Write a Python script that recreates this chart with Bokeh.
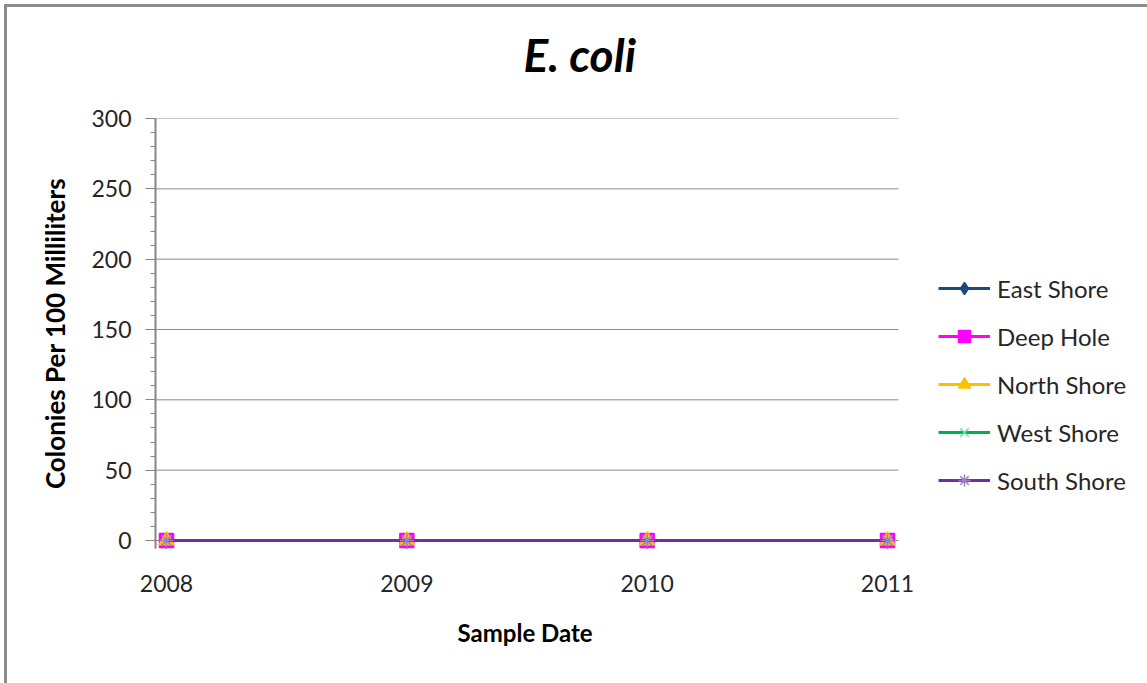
from bokeh.plotting import figure
from bokeh.models import FixedTicker, Legend, LegendItem, Range1d, InlineStyleSheet, Title
from bokeh.embed import file_html
from bokeh.resources import INLINE

# ---- data ----
years = ["2008", "2009", "2010", "2011"]
east_shore = [0, 0, 0, 0]
deep_hole = [0, 0, 0, 0]
north_shore = [0, 0, 0, 0]
west_shore = [0, 0, 0, 0]
south_shore = [0, 0, 0, 0]
series_names = ["East Shore", "Deep Hole", "North Shore", "West Shore", "South Shore"]
y_ticks = [0, 50, 100, 150, 200, 250, 300]
y_minor = list(range(0, 301, 10))

FONT = "Lato"
x = list(range(len(years)))
X0, X1 = -0.0458, 3.0458          # plot-area extent in category units
XR = X0 + 992 / 240.33            # canvas extends past plot area for the legend

p = figure(width=1147, height=683, output_backend="svg", toolbar_location=None,
           x_range=Range1d(X0, XR), y_range=Range1d(-5.7, 300),
           min_border_left=155, min_border_right=0,
           min_border_top=118, min_border_bottom=135)
# chart-area frame line (top and left), painted under a transparent canvas
p.stylesheets = [InlineStyleSheet(css=":host { box-shadow: inset 4px 4px 0 0 #ffffff, "
                                      "inset 7px 7px 0 0 #8c8c8c; }")]
p.outline_line_color = None
p.background_fill_color = None
p.border_fill_color = None
p.title.text = ""

# spacer between chart title and plot area, then the chart title
spacer = Title(text=" ", text_font=FONT, text_font_size="10px", standoff=23)
p.add_layout(spacer, "above")
main_title = Title(text="E. coli", align="left", offset=368, standoff=0,
                   text_font=FONT, text_font_style="bold italic",
                   text_font_size="46px", text_color="black")
p.add_layout(main_title, "above")

# grid (drawn only across the plot area)
p.xgrid.grid_line_color = None
p.ygrid.grid_line_color = None
p.segment(x0=[X0] * len(y_ticks), x1=[X1] * len(y_ticks), y0=y_ticks, y1=y_ticks,
          line_color="#8c8c8c", line_width=1, level="underlay")

# x axis
xa = p.xaxis[0]
xa.ticker = FixedTicker(ticks=x)
xa.major_label_overrides = {i: s for i, s in enumerate(years)}
for ax in (p.xaxis[0], p.yaxis[0]):
    ax.axis_line_color = "#868686"
    ax.axis_line_width = 2
    ax.major_tick_line_color = "#868686"
    ax.minor_tick_line_color = "#868686"
    ax.major_tick_in = 0
    ax.minor_tick_in = 0
    ax.major_label_text_font = FONT
    ax.major_label_text_font_size = "23px"
    ax.major_label_text_color = "#262626"
    ax.axis_label_text_font = FONT
    ax.axis_label_text_font_style = "bold"
    ax.axis_label_text_color = "black"
xa.axis_line_color = None
xa.major_tick_in = 8
xa.major_tick_out = 0
xa.minor_tick_out = 0
xa.major_label_standoff = 26

# x-axis title, centred under the plot area (not under the legend)
xt = Title(text="Sample Date", align="left", offset=302, standoff=42,
           text_font=FONT, text_font_style="bold", text_font_size="24px",
           text_color="black")
p.add_layout(xt, "below")

ya = p.yaxis[0]
ya.ticker = FixedTicker(ticks=y_ticks, minor_ticks=y_minor)
ya.axis_label = "Colonies Per 100 Milliliters"
ya.axis_label_text_font_size = "26px"
ya.major_tick_out = 10
ya.minor_tick_out = 5
ya.major_label_standoff = 14
ya.axis_label_standoff = 17

# series
styles = [
    (east_shore, "#1F497D", "diamond", "#1F497D", "#1F497D", 15),
    (deep_hole, "#FF00FF", "square", "#FF00FF", "#FF00FF", 14),
    (north_shore, "#FFC000", "triangle", "#FFC000", "#FFC000", 15),
    (west_shore, "#00B050", "x", None, "#6fdca0", 14),
    (south_shore, "#7030A0", "asterisk", None, "#9d7cc4", 14),
]
items = []
for name, (vals, col, mk, fill, mline, sz) in zip(series_names, styles):
    lr = p.line(x, vals, line_color=col, line_width=3, level="annotation")
    sr = p.scatter(x, vals, marker=mk, size=sz, fill_color=fill, line_color=mline,
                   line_width=1.5, level="annotation")
    items.append(LegendItem(label=name, renderers=[lr, sr]))

legend = Legend(items=items, location=(783, 53))
legend.label_text_font = FONT
legend.label_text_font_size = "24px"
legend.label_text_color = "#262626"
legend.glyph_width = 52
legend.glyph_height = 30
legend.label_height = 30
legend.label_standoff = 7
legend.spacing = 18
legend.padding = 0
legend.margin = 0
legend.border_line_color = None
legend.background_fill_color = None
p.add_layout(legend, "center")

open("out.html", "w").write(file_html(p, INLINE))
